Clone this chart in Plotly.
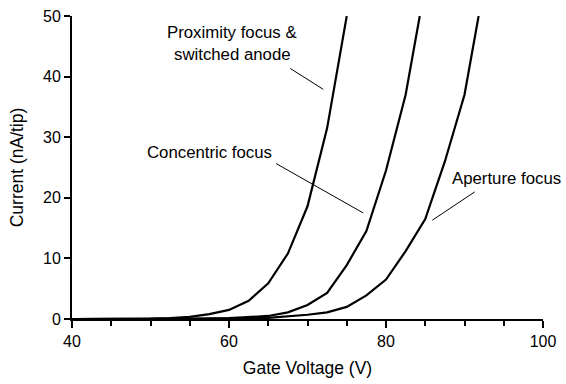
import plotly.graph_objects as go

# Data
v_prox = [40, 45, 50, 52.5, 55, 57.5, 60, 62.5, 65, 67.5, 70, 72.5, 75]
i_prox = [0, 0, 0.05, 0.15, 0.35, 0.8, 1.5, 3.0, 5.9, 10.8, 18.6, 31.5, 50]

v_conc = [40, 50, 55, 60, 62.5, 65, 67.5, 70, 72.5, 75, 77.5, 80, 82.5, 84.3]
i_conc = [0, 0, 0.02, 0.15, 0.3, 0.5, 1.1, 2.3, 4.3, 8.9, 14.5, 24.5, 37, 50]

v_apert = [40, 55, 60, 65, 67.5, 70, 72.5, 75, 77.5, 80, 82.5, 85, 87.5, 90, 91.8]
i_apert = [0, 0, 0.05, 0.2, 0.4, 0.7, 1.1, 2.0, 3.9, 6.5, 11.2, 16.5, 26, 37, 50]

x_ticks = [40, 60, 80, 100]
y_ticks = [0, 10, 20, 30, 40, 50]

FONT = "Liberation Sans, Arial, sans-serif"

fig = go.Figure()
for vx, iy, name in [(v_prox, i_prox, "Proximity focus & switched anode"),
                     (v_conc, i_conc, "Concentric focus"),
                     (v_apert, i_apert, "Aperture focus")]:
    fig.add_trace(go.Scatter(x=vx, y=iy, mode="lines", name=name,
                             line=dict(color="black", width=2.2),
                             showlegend=False, cliponaxis=True))

# leader lines (data coords)
leaders = [
    (67.8, 41.35, 72.0, 37.9),
    (66.0, 25.65, 77.1, 17.5),
    (91.3, 20.97, 85.9, 16.3),
]
for x0, y0, x1, y1 in leaders:
    fig.add_shape(type="line", xref="x", yref="y", x0=x0, y0=y0, x1=x1, y1=y1,
                  line=dict(color="black", width=1))

labels = [
    ("Proximity focus &", 60.4, 47.3),
    ("switched anode", 60.4, 43.7),
    ("Concentric focus", 57.5, 27.4),
    ("Aperture focus", 95.3, 23.2),
]
for txt, x, y in labels:
    fig.add_annotation(text=txt, x=x, y=y, xref="x", yref="y", showarrow=False,
                       font=dict(family=FONT, size=16.8, color="black"),
                       xanchor="center", yanchor="middle")

fig.update_layout(
    width=566, height=384,
    margin=dict(l=72, r=23, t=16, b=65),
    paper_bgcolor="white", plot_bgcolor="white",
    font=dict(family=FONT, size=16, color="black"),
    xaxis=dict(range=[40, 100], tickvals=x_ticks, ticks="outside", ticklen=7,
               tickwidth=1.5, tickcolor="black", showline=True, linecolor="black",
               linewidth=2, showgrid=False, zeroline=False, automargin=False,
               minor=dict(dtick=5, ticks="outside", ticklen=5, tickcolor="black",
                          tickwidth=1.5, showgrid=False),
               title=dict(text="Gate Voltage (V)", standoff=13,
                          font=dict(family=FONT, size=17.5, color="black")),
               tickfont=dict(family=FONT, size=16, color="black")),
    yaxis=dict(range=[0, 50], tickvals=y_ticks, ticks="outside", ticklen=6,
               tickwidth=1.5, tickcolor="black", showline=True, linecolor="black",
               linewidth=2, showgrid=False, zeroline=False, automargin=False,
               title=dict(text="Current (nA/tip)", standoff=15,
                          font=dict(family=FONT, size=17.5, color="black")),
               tickfont=dict(family=FONT, size=16, color="black")),
)

fig.write_html("out.html", config={"displayModeBar": False},
               post_script="document.body.style.margin='0';document.body.style.padding='0';")
